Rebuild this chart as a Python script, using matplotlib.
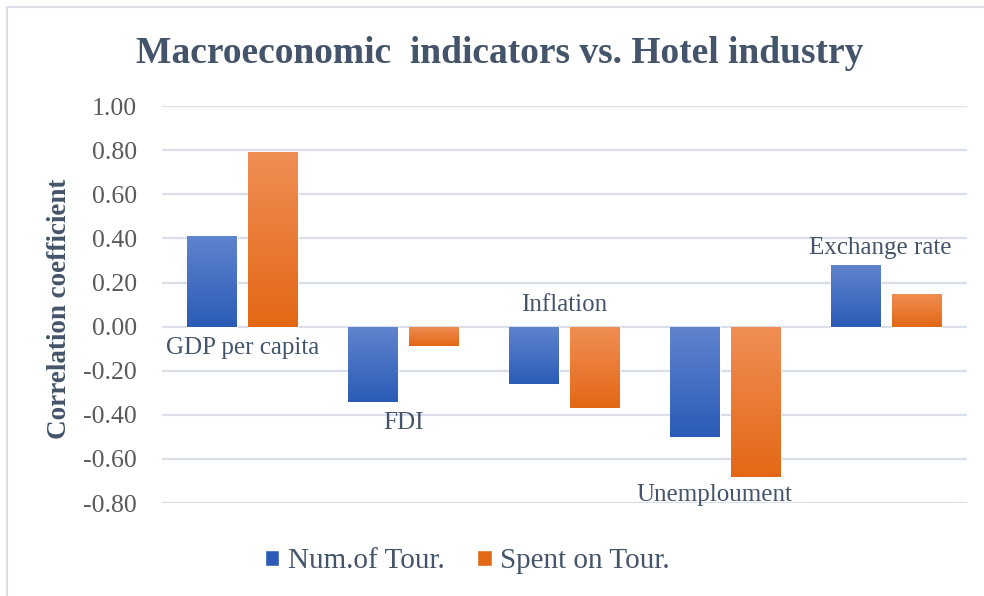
import numpy as np
import matplotlib.pyplot as plt
from matplotlib.colors import LinearSegmentedColormap
from matplotlib.patches import Patch, Rectangle

categories = ["GDP per capita", "FDI", "Inflation", "Unemploument", "Exchange rate"]
num_of_tour = [0.41, -0.34, -0.26, -0.50, 0.28]
spent_on_tour = [0.79, -0.09, -0.37, -0.68, 0.15]
series_names = ["Num.of Tour.", "Spent on Tour."]
yticks = [1.0, 0.8, 0.6, 0.4, 0.2, 0.0, -0.2, -0.4, -0.6, -0.8]

# where the category names sit (x offset, y in data units)
label_pos = [(0.0, -0.095), (0.0, -0.435), (0.0, 0.10), (-0.07, -0.765), (-0.04, 0.355)]

serif = "Liberation Serif"
text_col = "#44546A"
tick_col = "#595959"
blue_top, blue_bot = "#6084CD", "#2B5BB7"
orange_top, orange_bot = "#F08E55", "#E36815"

fig = plt.figure(figsize=(9.84, 5.96), dpi=100)
ax = fig.add_axes([0.1646, 0.156, 0.8181, 0.666])

x = np.arange(len(categories))
w = 0.31
off = 0.19

def gradient_bars(xs, vals, c_top, c_bot):
    bars = ax.bar(xs, vals, width=w, color=c_bot, edgecolor="white", linewidth=0.8, zorder=3)
    cmap = LinearSegmentedColormap.from_list("g", [c_bot, c_top])
    grad = np.linspace(0, 1, 256).reshape(-1, 1)
    for b in bars:
        x0, y0 = b.get_x(), b.get_y()
        bw, bh = b.get_width(), b.get_height()
        lo, hi = min(y0, y0 + bh), max(y0, y0 + bh)
        im = ax.imshow(grad, cmap=cmap, origin="lower", aspect="auto",
                       extent=[x0, x0 + bw, lo, hi], zorder=3.5)
        im.set_clip_path(b)
    return bars

gradient_bars(x - off, num_of_tour, blue_top, blue_bot)
gradient_bars(x + off, spent_on_tour, orange_top, orange_bot)

ax.set_xlim(-0.5, len(categories) - 0.5)
ax.set_ylim(-0.8, 1.0)
ax.set_yticks(yticks)
ax.set_yticklabels([f"{t:.2f}" for t in yticks], fontsize=18.5, family=serif, color=tick_col)
ax.set_xticks([])
ax.tick_params(axis="y", length=0, pad=18)
ax.grid(axis="y", color="#D9DEE8", linewidth=1.6, zorder=0)
for s in ax.spines.values():
    s.set_visible(False)

for i, name in enumerate(categories):
    dx, y = label_pos[i]
    ax.text(i + dx, y, name, ha="center", va="center", fontsize=18,
            family=serif, color=text_col, zorder=5)

ax.set_ylabel("Correlation coefficient", fontsize=19.5, family=serif,
              fontweight="bold", color=text_col)
ax.yaxis.set_label_coords(-0.112, 0.49)

fig.text(0.508, 0.91, "Macroeconomic  indicators vs. Hotel industry", ha="center", va="center",
         fontsize=27, family=serif, fontweight="bold", color=text_col)

handles = [Patch(facecolor=blue_bot, edgecolor="white"), Patch(facecolor=orange_bot, edgecolor="white")]
leg = fig.legend(handles, series_names, loc="center", bbox_to_anchor=(0.475, 0.058), ncol=2,
                 frameon=False, handlelength=0.5, handleheight=0.5, handletextpad=0.3,
                 columnspacing=1.1, prop={"family": serif, "size": 21})
for t in leg.get_texts():
    t.set_color(text_col)

fig.patches.append(Rectangle((7 / 984, -0.1), 1.2, 1.1 - 7 / 596, transform=fig.transFigure,
                             fill=False, edgecolor="#D9DEE8", linewidth=1.5))

fig.savefig("out.png", dpi=100)
